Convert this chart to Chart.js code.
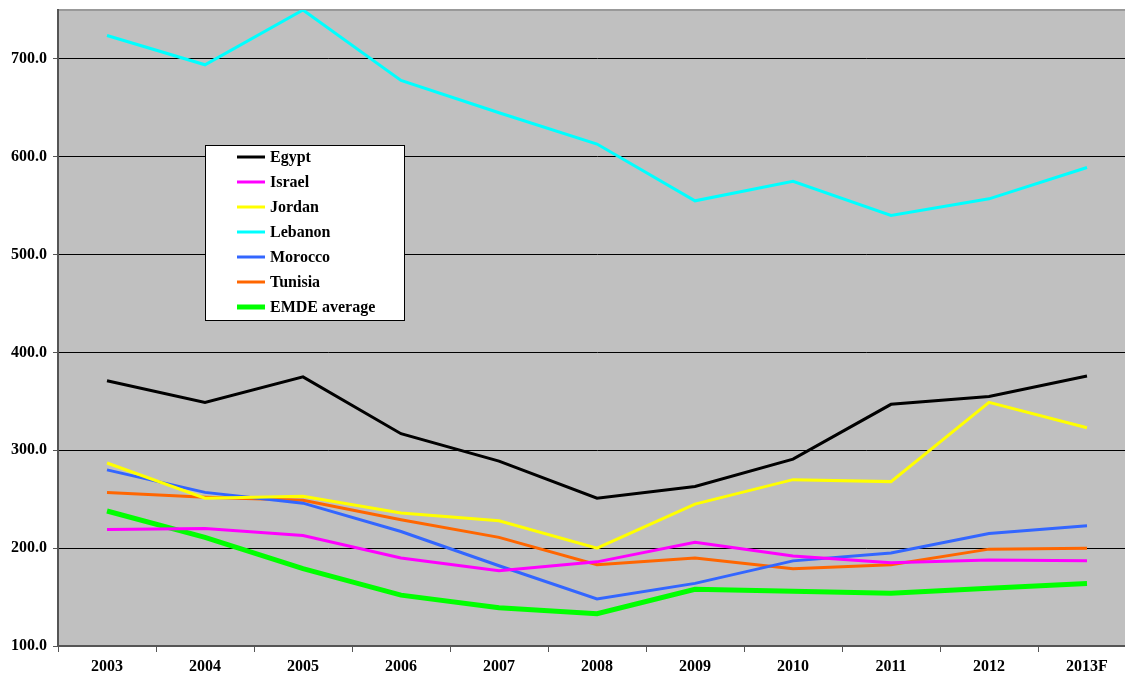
<!DOCTYPE html>
<html>
<head>
<meta charset="utf-8">
<script src="https://cdn.jsdelivr.net/npm/chart.js@4"></script>
<style>
  html, body { margin: 0; padding: 0; background: #fff; overflow: hidden; }
  #wrap { width: 1140px; height: 677px; }
</style>
</head>
<body>
<div id="wrap"><canvas id="chart"></canvas></div>
<script>
const years = ['2003', '2004', '2005', '2006', '2007', '2008', '2009', '2010', '2011', '2012', '2013F'];

const egypt   = [371, 349, 375, 317, 289, 251, 263, 291, 347, 355, 376];
const israel  = [219, 220, 213, 190, 177, 186, 206, 192, 185, 188, 187];
const jordan  = [287, 251, 253, 236, 228, 200, 245, 270, 268, 349, 323];
const lebanon = [724, 694, 750, 678, 645, 613, 555, 575, 540, 557, 589];
const morocco = [280, 257, 246, 217, 182, 148, 164, 187, 195, 215, 223];
const tunisia = [257, 252, 249, 229, 211, 183, 190, 179, 183, 199, 200];
const emde    = [238, 211, 179, 152, 139, 133, 158, 156, 154, 159, 164];

const yTicks = [100, 200, 300, 400, 500, 600, 700];

const serif = '"Liberation Serif", "Times New Roman", serif';

function series(label, data, color, width) {
  return {
    label: label,
    data: data,
    borderColor: color,
    backgroundColor: color,
    borderWidth: width,
    pointRadius: 0,
    tension: 0,
    fill: false
  };
}

const plotBg = {
  id: 'plotBg',
  beforeDraw(chart) {
    const { ctx, chartArea: a } = chart;
    ctx.save();
    ctx.fillStyle = '#c0c0c0';
    ctx.fillRect(a.left, a.top, a.right - a.left, a.bottom - a.top);
    ctx.restore();
  }
};

// legend box drawn inside the plot, like the original
const boxLegend = {
  id: 'boxLegend',
  afterDraw(chart) {
    const ctx = chart.ctx;
    const x = 205, y = 145, w = 199, h = 175;
    ctx.save();
    ctx.fillStyle = '#fff';
    ctx.fillRect(x, y, w, h);
    ctx.strokeStyle = '#000';
    ctx.lineWidth = 1;
    ctx.strokeRect(x + 0.5, y + 0.5, w, h);
    ctx.font = 'bold 16px ' + serif;
    ctx.textBaseline = 'middle';
    chart.data.datasets.forEach((ds, i) => {
      const ry = y + 12 + i * 25;
      ctx.strokeStyle = ds.borderColor;
      ctx.lineWidth = ds.borderWidth;
      ctx.beginPath();
      ctx.moveTo(237, ry);
      ctx.lineTo(265, ry);
      ctx.stroke();
      ctx.fillStyle = '#000';
      ctx.fillText(ds.label, 270, ry + 1);
    });
    ctx.restore();
  }
};

new Chart(document.getElementById('chart'), {
  type: 'line',
  data: {
    labels: years,
    datasets: [
      series('Egypt', egypt, '#000000', 3),
      series('Israel', israel, '#ff00ff', 3),
      series('Jordan', jordan, '#ffff00', 3),
      series('Lebanon', lebanon, '#00ffff', 3),
      series('Morocco', morocco, '#3366ff', 3),
      series('Tunisia', tunisia, '#ff6600', 3),
      series('EMDE average', emde, '#00ff00', 5)
    ]
  },
  options: {
    responsive: true,
    maintainAspectRatio: false,
    animation: false,
    layout: { padding: { top: 10, right: 4, left: 0, bottom: 0 } },
    plugins: {
      legend: { display: false },
      tooltip: { enabled: false }
    },
    scales: {
      x: {
        offset: true,
        grid: {
          offset: true,
          drawOnChartArea: false,
          drawTicks: true,
          tickLength: 6,
          color: '#555'
        },
        border: { color: '#555', width: 2 },
        ticks: {
          color: '#000',
          padding: 5,
          maxRotation: 0,
          font: { family: serif, size: 16, weight: 'bold' }
        },
        afterFit(scale) { scale.height = 31; }
      },
      y: {
        min: 100,
        max: 750,
        afterBuildTicks(scale) {
          scale.ticks = yTicks.concat([750]).map(v => ({ value: v }));
        },
        grid: {
          color: ctx => ctx.tick && ctx.tick.value === 750 ? '#999' : '#000',
          lineWidth: ctx => ctx.tick && ctx.tick.value === 750 ? 2 : 1,
          tickLength: 5,
          tickColor: ctx => ctx.tick && ctx.tick.value === 750 ? 'rgba(0,0,0,0)' : '#555'
        },
        border: { color: '#555', width: 2 },
        ticks: {
          color: '#000',
          padding: 6,
          callback: v => v === 750 ? '' : v.toFixed(1),
          font: { family: serif, size: 16, weight: 'bold' }
        },
        afterFit(scale) {
          scale.width = 58;
          scale.paddingTop = 0;
          scale.paddingBottom = 0;
        }
      }
    }
  },
  plugins: [plotBg, boxLegend]
});
</script>
</body>
</html>
